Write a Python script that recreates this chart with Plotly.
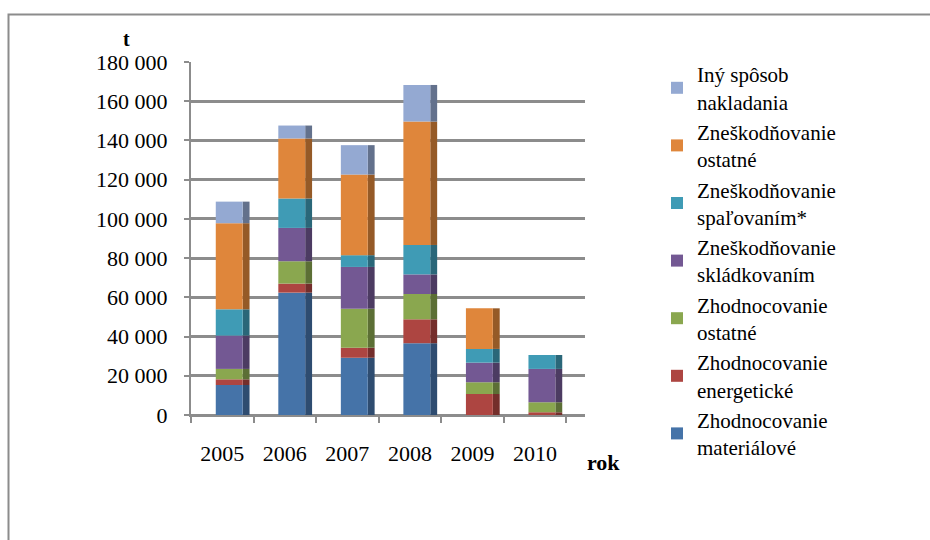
import numpy as np
import plotly.graph_objects as go

years = ["2005", "2006", "2007", "2008", "2009", "2010"]

series_names = [
    "Zhodnocovanie<br>materiálové",
    "Zhodnocovanie<br>energetické",
    "Zhodnocovanie<br>ostatné",
    "Zneškodňovanie<br>skládkovaním",
    "Zneškodňovanie<br>spaľovaním*",
    "Zneškodňovanie<br>ostatné",
    "Iný spôsob<br>nakladania",
]

zhod_material = [15300, 62400, 29200, 36600, 0, 0]
zhod_energ = [2900, 4600, 5100, 12200, 10700, 1400]
zhod_ostatne = [5300, 11400, 19900, 12900, 6000, 5100]
znes_skladk = [17000, 17000, 21300, 10000, 10000, 17000]
znes_spal = [13400, 15000, 6000, 15000, 7000, 7100]
znes_ostatne = [43900, 30600, 41100, 62900, 20700, 0]
iny_sposob = [11000, 6600, 15000, 18700, 0, 0]

y_ticks = [0, 20000, 40000, 60000, 80000, 100000, 120000, 140000, 160000, 180000]
y_tick_labels = ["0", "20 000", "40 000", "60 000", "80 000", "100 000",
                 "120 000", "140 000", "160 000", "180 000"]

front_colors = ["#4573A8", "#AD4541", "#8AA74F", "#735893", "#3F9BB5", "#DF863B", "#94A9D2"]
side_colors = ["#2E4C70", "#742E2B", "#5C6F35", "#4C3B62", "#2A6779", "#955A27", "#63718C"]

all_series = [zhod_material, zhod_energ, zhod_ostatne, znes_skladk,
              znes_spal, znes_ostatne, iny_sposob]

SERIF = "'Liberation Serif', 'Times New Roman', Times, serif"

# layout geometry in px
W, H = 930, 540
x0_px, x1_px = 191, 585
y_top_px, y_bot_px = 62, 415
ml, mr = x0_px, W - x1_px
mt, mb = y_top_px, H - y_bot_px
pw, ph = x1_px - x0_px, y_bot_px - y_top_px

def px_x(px):
    return (px - x0_px) / pw

def px_y(py):
    return (y_bot_px - py) / ph

fig = go.Figure()
base = np.zeros(len(years))
for name, vals, fc, sc in zip(series_names, all_series, front_colors, side_colors):
    v = np.array(vals, dtype=float)
    # side face (pseudo 3D)
    fig.add_trace(go.Bar(
        x=years, y=v, base=base.copy(), marker=dict(color=sc, line=dict(width=0)),
        offset=0.326, width=0.11, showlegend=False, hoverinfo="skip",
    ))
    fig.add_trace(go.Bar(
        x=years, y=v, base=base.copy(), name=name,
        marker=dict(color=fc, line=dict(width=0)),
        offset=-0.104, width=0.43,
    ))
    base = base + v

fig.update_layout(
    width=W, height=H,
    margin=dict(l=ml, r=mr, t=mt, b=mb),
    barmode="overlay",
    paper_bgcolor="white", plot_bgcolor="white",
    font=dict(family=SERIF, size=21, color="black"),
    xaxis=dict(
        type="category", range=[-0.5, 5.8],
        showgrid=False, showline=True, linecolor="#8C8C8C", linewidth=2,
        ticks="outside", tickson="boundaries", ticklen=6, tickcolor="#8C8C8C", tickwidth=2,
        tickfont=dict(family=SERIF, size=22, color="black"), ticklabelstandoff=18,
        fixedrange=True,
    ),
    yaxis=dict(
        range=[0, 180000], tickvals=y_ticks, ticktext=y_tick_labels,
        showgrid=True, gridcolor="#8C8C8C", gridwidth=2.5,
        zeroline=True, zerolinecolor="#8C8C8C", zerolinewidth=2.5,
        showline=True, linecolor="#8C8C8C", linewidth=2,
        ticks="outside", ticklen=5, tickcolor="#8C8C8C", tickwidth=2,
        tickfont=dict(family=SERIF, size=22, color="black"), ticklabelstandoff=12,
        fixedrange=True,
    ),
    legend=dict(
        x=px_x(657), y=px_y(54), xanchor="left", yanchor="top",
        traceorder="reversed", font=dict(family=SERIF, size=21, color="black"),
        bgcolor="rgba(0,0,0,0)", itemclick=False, maxheight=520,
    ),
    showlegend=True,
)

fig.add_annotation(text="<b>t</b>", xref="paper", yref="paper",
                   x=px_x(126), y=px_y(39), showarrow=False,
                   font=dict(family=SERIF, size=20), xanchor="center", yanchor="middle")
fig.add_annotation(text="<b>rok</b>", xref="paper", yref="paper",
                   x=px_x(603), y=px_y(462), showarrow=False,
                   font=dict(family=SERIF, size=22), xanchor="center", yanchor="middle")

fig.add_shape(type="rect", xref="paper", yref="paper",
              x0=px_x(8.5), x1=px_x(960), y0=px_y(570), y1=px_y(14.5),
              line=dict(color="#8C8C8C", width=2), layer="below")

fig.write_html("out.html", config={"displayModeBar": False},
               post_script="document.body.style.margin='0';")
